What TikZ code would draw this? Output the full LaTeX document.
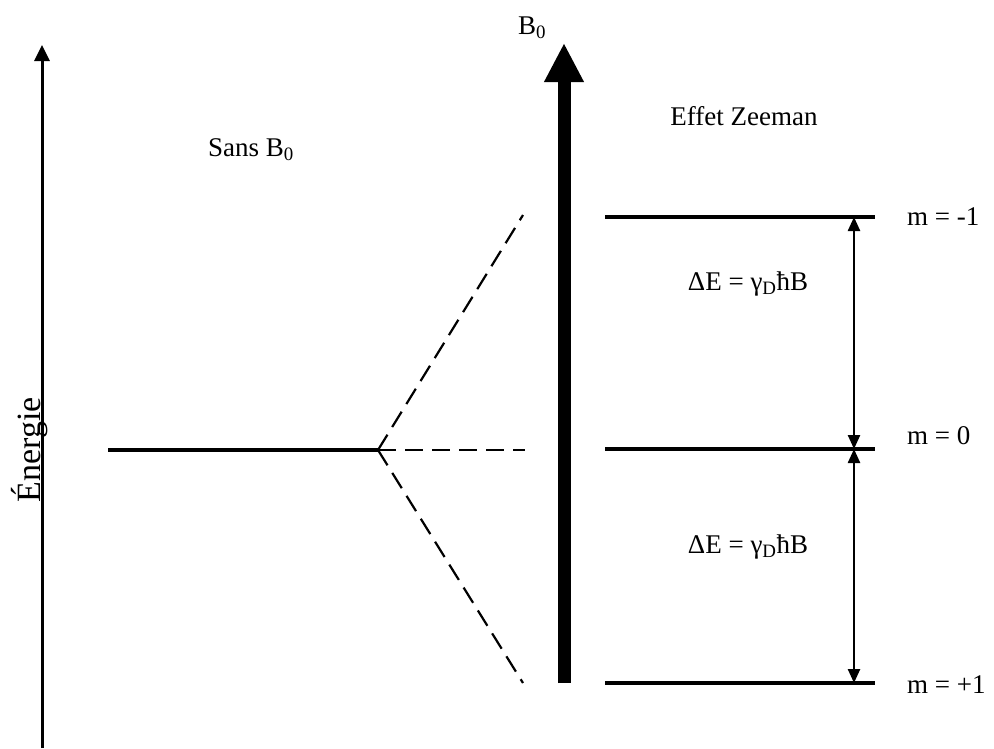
\documentclass[tikz,border=0pt]{standalone}
\usepackage{fontspec}
\setmainfont{Liberation Serif}
\usetikzlibrary{arrows.meta,positioning,calc}

\begin{document}
\begin{tikzpicture}[x=1pt, y=-1pt, >=Latex,
  level/.style={line width=3.2pt},
  split/.style={line width=2.2pt, dash pattern=on 18pt off 9pt},
  gap/.style={line width=2.4pt, {Triangle[length=14pt,width=12pt]}-{Triangle[length=14pt,width=12pt]}},
  lbl/.style={font=\fontsize{27}{32}\selectfont, inner sep=0pt}]
  \useasboundingbox (0,0) rectangle (994,748);
  % energy axis
  \coordinate (eb) at (42,748);
  \coordinate (et) at (42,45);
  \draw[line width=3pt, -{Triangle[length=16pt,width=15pt]}] (eb) -- (et);
  \node[lbl, font=\fontsize{34}{38}\selectfont, rotate=90] (en) at (30,450) {Énergie};
  % field arrow
  \coordinate (bb) at (564,683);
  \coordinate (bt) at (564,43);
  \draw[line width=13pt, -{Triangle[length=39pt,width=37pt]}] (bb) -- (bt);
  \node[lbl] (b0) at (532,28) {B\textsubscript{0}};
  \node[lbl] (sans) at (251,150) {Sans B\textsubscript{0}};
  \node[lbl] (zee) at (744,116) {Effet Zeeman};
  % level without field, then splitting
  \coordinate (s0) at (108,450);
  \coordinate (fork) at (378,450);
  \draw[level] (s0) -- (fork);
  \coordinate (sp1) at (523,215);
  \coordinate (sp0) at (525,450);
  \coordinate (sp2) at (523,683);
  \draw[split] (fork) -- (sp1);
  \draw[split] (fork) -- (sp0);
  \draw[split] (fork) -- (sp2);
  % Zeeman levels
  \coordinate (la) at (605,217); \coordinate (lb) at (875,217);
  \coordinate (ma) at (605,449); \coordinate (mb) at (875,449);
  \coordinate (na) at (605,683); \coordinate (nb) at (875,683);
  \draw[level] (la) -- (lb);
  \draw[level] (ma) -- (mb);
  \draw[level] (na) -- (nb);
  \coordinate (d1) at (854,217);
  \coordinate (d2) at (854,449);
  \coordinate (d3) at (854,683);
  \draw[gap] (d1) -- (d2);
  \draw[gap] (d2) -- (d3);
  \node[lbl, anchor=west] (m1) at (907,217) {m = -1};
  \node[lbl, anchor=west] (m0) at (907,436) {m = 0};
  \node[lbl, anchor=west] (m2) at (907,685) {m = +1};
  \node[lbl] (de1) at (748,284) {ΔE = γ\textsubscript{D}ħB};
  \node[lbl] (de2) at (748,547) {ΔE = γ\textsubscript{D}ħB};
\end{tikzpicture}
\end{document}
